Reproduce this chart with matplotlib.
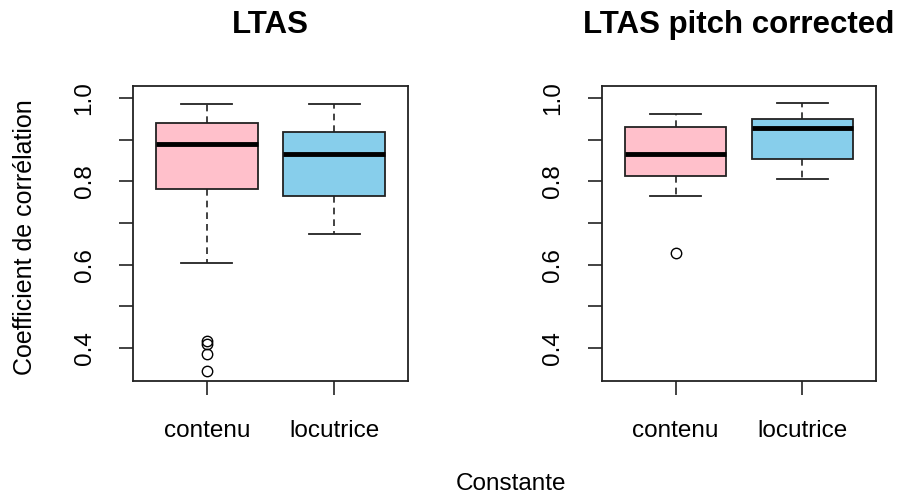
import matplotlib
matplotlib.use("Agg")
import matplotlib.pyplot as plt

plt.rcParams['font.family'] = ['Liberation Sans', 'DejaVu Sans']

groups = ['contenu', 'locutrice']
colors = ['#FFC0CB', '#87CEEB']

# five-number summaries: lower whisker, q1, median, q3, upper whisker
ltas_stats = [
    [0.604, 0.783, 0.890, 0.941, 0.985],
    [0.674, 0.764, 0.866, 0.918, 0.985],
]
ltas_fliers = [[0.417, 0.411, 0.387, 0.344], []]

pitch_stats = [
    [0.765, 0.812, 0.867, 0.930, 0.963],
    [0.805, 0.855, 0.927, 0.950, 0.989],
]
pitch_fliers = [[0.628], []]

titles = ['LTAS', 'LTAS pitch corrected']
yticks_major = [0.4, 0.6, 0.8, 1.0]
yticks_all = [0.4, 0.5, 0.6, 0.7, 0.8, 0.9, 1.0]


def make_stats(stats, fliers):
    out = []
    for (lo, q1, med, q3, hi), fl in zip(stats, fliers):
        out.append(dict(whislo=lo, q1=q1, med=med, q3=q3, whishi=hi, fliers=fl))
    return out


fig = plt.figure(figsize=(9, 4.95), dpi=100)
ax1 = fig.add_axes([133 / 900, 1 - 381 / 495, 275 / 900, 295 / 495])
ax2 = fig.add_axes([602 / 900, 1 - 381 / 495, 274 / 900, 295 / 495])

for ax, stats, fliers, title in [(ax1, ltas_stats, ltas_fliers, titles[0]),
                                 (ax2, pitch_stats, pitch_fliers, titles[1])]:
    b = ax.bxp(make_stats(stats, fliers), positions=[1, 2], widths=0.8,
               patch_artist=True, capwidths=0.4,
               boxprops=dict(edgecolor='#222222', linewidth=1.3),
               whiskerprops=dict(color='#222222', linestyle=(0, (4, 3)), linewidth=1.2),
               capprops=dict(color='#222222', linewidth=1.3),
               medianprops=dict(color='black', linewidth=3.5, solid_capstyle='butt'),
               flierprops=dict(marker='o', markerfacecolor='none',
                               markeredgecolor='black', markersize=7.5, markeredgewidth=1))
    for patch, c in zip(b['boxes'], colors):
        patch.set_facecolor(c)
    ax.set_xlim(0.42, 2.58)
    ax.set_ylim(0.321, 1.029)
    ax.set_xticks([1, 2])
    ax.set_xticklabels(groups, fontsize=17.5)
    ax.set_yticks(yticks_all)
    ax.set_yticklabels(['' if v not in yticks_major else f'{v:.1f}' for v in yticks_all],
                       fontsize=17.5, rotation=90, va='center')
    ax.tick_params(axis='both', direction='out', length=10, width=1.2, color='#222222')
    ax.tick_params(axis='x', pad=18)
    ax.tick_params(axis='y', pad=17)
    for s in ax.spines.values():
        s.set_linewidth(1.3)
        s.set_color('#222222')
    x0, y0, w, h = ax.get_position().bounds
    fig.text(x0 + w / 2, 1 - 33 / 495, title, ha='center', va='baseline',
             fontsize=22.5, fontweight='bold')

fig.text(25 / 900, 1 - 237 / 495, 'Coefficient de corrélation', rotation=90,
         ha='center', va='center', fontsize=18)
fig.text(511 / 900, 1 - 490 / 495, 'Constante', ha='center', va='baseline', fontsize=17.5)

fig.savefig('out.png', dpi=100)
